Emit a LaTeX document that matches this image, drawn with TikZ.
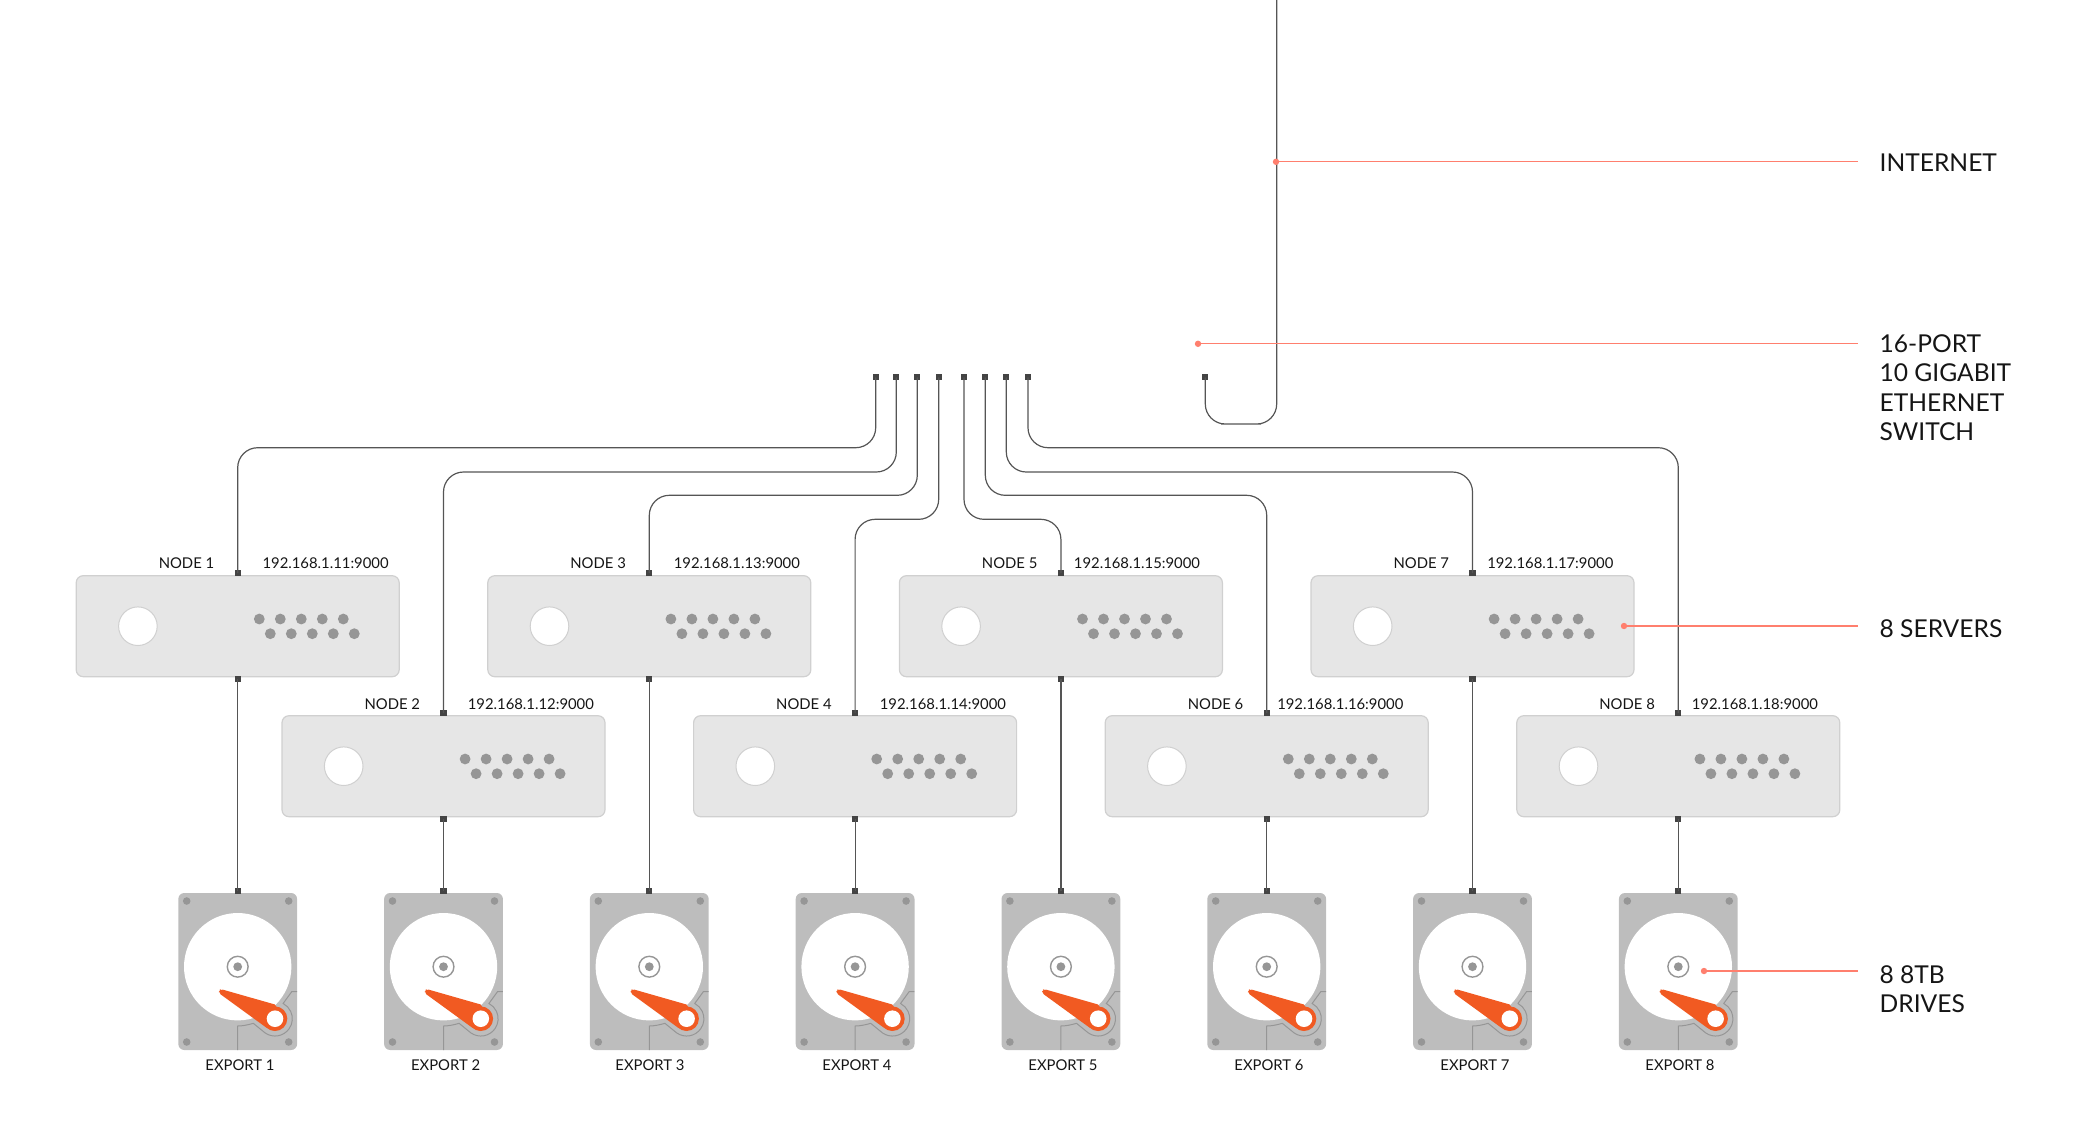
\documentclass[tikz,border=0pt]{standalone}
\usepackage{fontspec}
\setmainfont{Lato}
\definecolor{wirec}{HTML}{555555}
\definecolor{portc}{HTML}{444444}
\definecolor{boxf}{HTML}{E6E6E6}
\definecolor{boxd}{HTML}{D0D0D0}
\definecolor{dotc}{HTML}{969696}
\definecolor{drivec}{HTML}{BDBDBD}
\definecolor{armc}{HTML}{F15A22}
\definecolor{salmon}{HTML}{FF7F6E}
\definecolor{textc}{HTML}{151515}
\tikzset{
  wire/.style={draw=wirec,line width=0.6pt,rounded corners=10pt},
  straightwire/.style={draw=wirec,line width=0.6pt},
  portbox/.style={fill=portc,inner sep=0pt,minimum width=3.1pt,minimum height=3pt},
  serverbox/.style={draw=boxd,fill=boxf,line width=0.6pt,rounded corners=3.5pt,minimum width=161.5pt,minimum height=50.5pt,inner sep=0pt},
  drivebox/.style={fill=drivec,rounded corners=3pt,minimum width=59.4pt,minimum height=78.5pt,inner sep=0pt},
  small/.style={font=\fontsize{7.42}{9}\selectfont,text=textc,inner sep=0pt},
  big/.style={font=\fontsize{12.3}{14.7}\selectfont,text=textc,inner sep=0pt,align=left,anchor=north west},
  callout/.style={draw=salmon,line width=0.55pt},
  drivepic/.pic={
    \foreach \a/\b in {-51/-65.7,51/-65.7,-51/75.3,51/75.3}{\fill[dotc] (\a,\b) circle[radius=3.8];}
    \fill[white] (0,0) circle[radius=53.7];
    \draw[dotc,line width=0.7pt] (0,0) circle[radius=10.4];
    \fill[dotc] (0,0) circle[radius=4.4];
    \draw[dotc,line width=0.5pt] (0,83.3) -- (0,59.3) .. controls (5,59.3) and (11,58) .. (15.6,56.6) -- (27.4,66.2)
      arc[start angle=125,end angle=-62,radius=17.3] -- (54,25) -- (59.3,25);
    \fill[armc,rounded corners=1pt] (-18.6,23.6) -- (-16.7,22.4) -- (39,38.3) -- (37.3,64.3) -- (29.6,61.6) -- (-18.8,26.4) -- cycle;
    \fill[armc] (37.3,52) circle[radius=12.3];
    \fill[white] (37.3,52) circle[radius=8.3];
  }
}
\begin{document}
\begin{tikzpicture}[x=0.5pt,y=-0.5pt]
\useasboundingbox (0,0) rectangle (2084,1147);
% servers and drives
\foreach \i/\ipx in {1/325.6,2/530.9,3/736.9,4/942.9,5/1137,6/1340.3,7/1550.3,8/1754.9}{
  \pgfmathsetmacro{\xc}{237.7+(\i-1)*205.8}
  \pgfmathsetmacro{\yc}{isodd(\i)?626.2:766.2}
  \pgfmathsetmacro{\ylab}{isodd(\i)?563:704.5}
  \node[serverbox] (s\i) at (\xc,\yc) {};
  \fill[white,draw=boxd,line width=0.5pt] (\xc-99.8,\yc) circle[radius=19.3];
  \foreach \k in {0,...,4}{
    \fill[dotc] (\xc+21.6+21*\k,\yc-7.2) circle[radius=5.4];
    \fill[dotc] (\xc+32.6+21*\k,\yc+7.5) circle[radius=5.4];
  }
  \node[portbox] (nt\i) at (\xc,\yc-53.2) {};
  \node[portbox] (nb\i) at (\xc,\yc+53.1) {};
  \node[small] (nl\i) at (\xc-51.2,\ylab) {NODE \i};
  \pgfmathtruncatemacro{\ipn}{10+\i}
  \node[small] (ip\i) at (\ipx,\ylab) {192.168.1.\ipn:9000};
  \node[drivebox] (d\i) at (\xc,971.5) {};
  \pic at (\xc,966.7) {drivepic};
  \node[portbox] (dt\i) at (\xc,890.7) {};
  \draw[straightwire] (nb\i.center) -- (dt\i.center);
}
\foreach \i/\x in {1/240,2/445.6,3/650,4/857,5/1063,6/1269,7/1475,8/1680}{
  \node[small] (ex\i) at (\x,1065.6) {EXPORT \i};
}
% switch ports and cables
\foreach \i/\sx/\by in {1/875.7/447.7,2/896.3/472,3/917.3/495.3,4/938.7/519.3,5/964/519.3,6/985.3/495.3,7/1006.3/472,8/1028/447.7}{
  \pgfmathsetmacro{\xc}{237.7+(\i-1)*205.8}
  \node[portbox] (sw\i) at (\sx,377.3) {};
  \coordinate (bus\i) at ({(\sx+\xc)/2},\by);
  \draw[wire] (sw\i.center) |- (bus\i) -| (nt\i.center);
}
\node[portbox] (up) at (1205.3,377.3) {};
\coordinate (sky) at (1276.7,0);
\coordinate (loop) at (1241,424);
\draw[wire] (up.center) |- (loop) -| (sky);
% callouts
\node[big] (inet) at (1879.2,153.2) {INTERNET};
\node[big] (swt) at (1879.2,334) {16-PORT\\10 GIGABIT\\ETHERNET\\SWITCH};
\node[big] (srv) at (1879.2,619.6) {8 SERVERS};
\node[big] (drv) at (1879.2,965) {8 8TB\\DRIVES};
\foreach \n/\dx/\dy in {a/1276/161.8,b/1198/343.8,c/1624/626,d/1704/971}{
  \coordinate (cd\n) at (\dx,\dy);
  \coordinate (ce\n) at (1857.5,\dy);
  \draw[callout] (cd\n) -- (ce\n);
  \fill[salmon] (cd\n) circle[radius=3.2];
}
\end{tikzpicture}
\end{document}
